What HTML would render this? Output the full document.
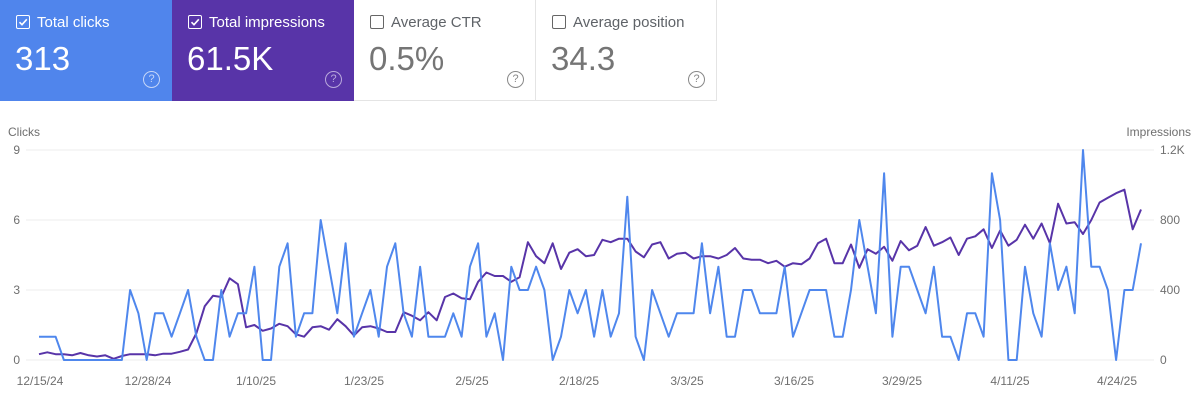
<!DOCTYPE html>
<html><head><meta charset="utf-8"><style>
body{margin:0;width:1200px;height:407px;background:#fff;font-family:"Liberation Sans",sans-serif;overflow:hidden;position:relative}
.card{position:absolute;top:0;height:101px;box-sizing:border-box}
.lab{position:absolute;left:37px;top:14px;font-size:15px}
.cb{position:absolute;left:16px;top:15px;width:12px;height:12px;border:1.5px solid;border-radius:2px}
.num{position:absolute;left:15px;top:40px;font-size:33px}
.help{position:absolute;top:71px;width:15px;height:15px;border:1.3px solid;border-radius:50%;font-size:11px;text-align:center;line-height:15px}
</style></head><body>
<div class="card" style="left:0;width:172px;background:#5085ec;color:#fff">
<div class="cb" style="border-color:#fff"><svg width="12" height="12" style="position:absolute;left:0;top:0"><path d="M2.5 6.2 L5 8.7 L9.8 3.3" stroke="#fff" stroke-width="1.6" fill="none"/></svg></div>
<div class="lab">Total clicks</div><div class="num">313</div><div class="help" style="left:143px;border-color:#c6d6f8;color:#c6d6f8">?</div></div>
<div class="card" style="left:172px;width:182px;background:#5834a8;color:#fff">
<div class="cb" style="border-color:#fff"><svg width="12" height="12" style="position:absolute;left:0;top:0"><path d="M2.5 6.2 L5 8.7 L9.8 3.3" stroke="#fff" stroke-width="1.6" fill="none"/></svg></div>
<div class="lab">Total impressions</div><div class="num">61.5K</div><div class="help" style="left:153px;border-color:#b9a9dc;color:#b9a9dc">?</div></div>
<div class="card" style="left:354px;width:182px;border-right:1px solid #e4e4e4;border-bottom:1px solid #e4e4e4;color:#5f6368">
<div class="cb" style="border-color:#666"></div>
<div class="lab">Average CTR</div><div class="num" style="color:#757575">0.5%</div><div class="help" style="left:153px;border-color:#888;color:#888">?</div></div>
<div class="card" style="left:536px;width:181px;border-right:1px solid #e4e4e4;border-bottom:1px solid #e4e4e4;color:#5f6368">
<div class="cb" style="border-color:#666"></div>
<div class="lab">Average position</div><div class="num" style="color:#757575">34.3</div><div class="help" style="left:152px;border-color:#888;color:#888">?</div></div>
<svg id="ch" width="1200" height="407" style="position:absolute;left:0;top:0" font-family="Liberation Sans, sans-serif" font-size="12" fill="#6f6f6f">
<text x="8" y="136">Clicks</text><text x="1191" y="136" text-anchor="end">Impressions</text>
<g stroke="#eeeeee" stroke-width="1"><line x1="26" x2="1154" y1="150" y2="150"/><line x1="26" x2="1154" y1="220" y2="220"/><line x1="26" x2="1154" y1="290" y2="290"/><line x1="26" x2="1154" y1="360" y2="360"/></g>
<g text-anchor="end"><text x="20" y="154">9</text><text x="20" y="224">6</text><text x="20" y="294">3</text><text x="20" y="364">0</text></g>
<g><text x="1160" y="154">1.2K</text><text x="1160" y="224">800</text><text x="1160" y="294">400</text><text x="1160" y="364">0</text></g>
<g text-anchor="middle"><text x="40" y="385">12/15/24</text><text x="148" y="385">12/28/24</text><text x="256" y="385">1/10/25</text><text x="364" y="385">1/23/25</text><text x="472" y="385">2/5/25</text><text x="579" y="385">2/18/25</text><text x="687" y="385">3/3/25</text><text x="794" y="385">3/16/25</text><text x="902" y="385">3/29/25</text><text x="1010" y="385">4/11/25</text><text x="1117" y="385">4/24/25</text></g>
<polyline id="imp" fill="none" stroke="#5834a8" stroke-width="2" stroke-linejoin="round"/>
<polyline id="clk" fill="none" stroke="#4f87ed" stroke-width="2" stroke-linejoin="round"/>
</svg>
<script>
var c=[1,1,1,0,0,0,0,0,0,0,0,3,2,0,2,2,1,2,3,1,0,0,3,1,2,2,4,0,0,4,5,1,2,2,6,4,2,5,1,2,3,1,4,5,2,1,4,1,1,1,2,1,4,5,1,2,0,4,3,3,4,3,0,1,3,2,3,1,
3,1,2,7,1,0,3,2,1,2,2,2,5,2,4,1,1,3,3,2,2,2,4,1,2,3,3,3,1,1,3,6,4,2,8,1,4,4,3,2,4,1,1,0,2,2,1,8,6,0,0,4,2,1,5,3,4,2,9,4,4,3,0,3,3,5];
var p=[0.25,0.33,0.25,0.25,0.2,0.3,0.2,0.15,0.2,0.05,0.17,0.25,0.25,0.25,0.2,0.27,0.27,0.35,0.45,1.15,2.3,2.75,2.7,3.5,3.25,1.4,1.5,1.25,1.35,1.55,1.45,1.1,1.0,1.4,1.45,1.3,1.75,1.45,1.05,1.4,1.45,1.35,1.2,1.2,2.05,1.9,1.7,2.05,1.7,2.7,2.85,2.65,2.6,3.35,3.75,3.6,3.6,3.35,3.55,5.05,4.45,4.15,5.0,3.9,4.6,4.75,4.45,4.5,
5.15,5.05,5.2,5.2,4.65,4.4,4.95,5.05,4.35,4.55,4.6,4.35,4.45,4.45,4.35,4.5,4.8,4.35,4.3,4.3,4.15,4.25,4.0,4.15,4.1,4.35,5.0,5.2,4.15,4.15,4.95,3.95,4.75,4.55,4.85,4.25,5.1,4.7,4.9,5.7,4.9,5.05,5.25,4.5,5.2,5.3,5.6,4.8,5.55,4.9,5.15,5.8,5.2,5.85,5.0,6.7,5.85,5.9,5.4,6.0,6.75,6.95,7.15,7.3,5.6,6.45];
function pts(a){var n=a.length,s=[];for(var i=0;i<n;i++){var x=39+i*(1141-39)/(n-1);s.push(x.toFixed(1)+","+(360-a[i]*23.333).toFixed(1));}return s.join(" ");}
document.getElementById("clk").setAttribute("points",pts(c));
document.getElementById("imp").setAttribute("points",pts(p));
</script>
</body></html>
